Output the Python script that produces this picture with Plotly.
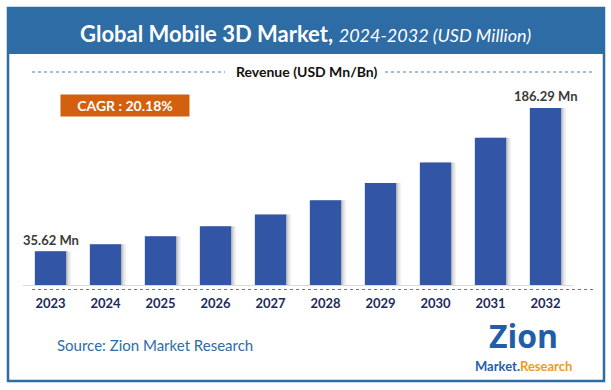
import plotly.graph_objects as go

years = ["2023", "2024", "2025", "2026", "2027", "2028", "2029", "2030", "2031", "2032"]
revenue = [35.62, 42.8, 51.4, 61.8, 74.3, 89.3, 107.3, 129.0, 155.0, 186.29]
first_label = "35.62 Mn"
last_label = "186.29 Mn"
cagr_text = "CAGR : 20.18%"

W, H = 611, 390
L, R, T, B = 23, 38, 95, 105
PW, PH = W - L - R, H - T - B

def px(x):
    return (x - L) / PW

def py(y):
    return (H - B - y) / PH

BLUE = "#2E6CA6"
BAR = "#3256A5"
FONT = "Lato, Open Sans, sans-serif"

fig = go.Figure()
# soft shadow on the right side of each bar
for off, alpha in [(0.03, 0.10), (0.06, 0.08), (0.09, 0.05)]:
    fig.add_trace(go.Bar(x=years, y=revenue, marker=dict(color="rgba(0,0,0,%s)" % alpha, line_width=0),
                         width=0.57, offset=-0.285 + off, hoverinfo="skip", showlegend=False))
fig.add_trace(go.Bar(x=years, y=revenue, marker=dict(color=BAR, line_width=0),
                     width=0.57, offset=-0.285, showlegend=False))

shapes = []
shapes.append(dict(type="rect", xref="paper", yref="paper", x0=px(8), x1=px(604), y0=py(8), y1=py(54),
                   fillcolor=BLUE, line_width=0, layer="below"))
shapes.append(dict(type="rect", xref="paper", yref="paper", x0=px(8), x1=px(604), y0=py(8), y1=py(381),
                   line=dict(color=BLUE, width=2.5), fillcolor="rgba(0,0,0,0)"))
for x0, x1 in [(32, 225), (385, 593)]:
    shapes.append(dict(type="line", xref="paper", yref="paper", x0=px(x0), x1=px(x1), y0=py(72), y1=py(72),
                       line=dict(color="#4A7CC7", width=1, dash="3px,3px")))
shapes.append(dict(type="line", xref="paper", yref="paper", x0=px(32), x1=px(593), y0=py(289.5), y1=py(289.5),
                   line=dict(color="#4A7CC7", width=1, dash="3px,3px")))

ann = []
ann.append(dict(xref="paper", yref="paper", x=px(305), y=py(33), xanchor="center", yanchor="middle",
                showarrow=False,
                text="<b>Global Mobile 3D Market,</b> <i><span style='font-size:18px'>2024-2032 (USD Million)</span></i>",
                font=dict(family=FONT, size=22, color="white")))
ann.append(dict(xref="paper", yref="paper", x=px(306), y=py(71), xanchor="center", yanchor="middle",
                showarrow=False, text="<b>Revenue (USD Mn/Bn)</b>",
                font=dict(family=FONT, size=14, color="#111111")))
ann.append(dict(xref="paper", yref="paper", x=px(125), y=py(105.5), xanchor="center", yanchor="middle",
                showarrow=False, text="<b>" + cagr_text + "</b>", bgcolor="#D2600F",
                width=128, height=21, borderpad=0,
                font=dict(family=FONT, size=14, color="white")))
ann.append(dict(x=0, y=revenue[0], yshift=11, xshift=0, showarrow=False, text="<b>" + first_label + "</b>",
                xanchor="center", yanchor="middle",
                font=dict(family=FONT, size=13, color="#3A3A3A")))
ann.append(dict(x=len(years) - 1, y=revenue[-1], yshift=12, showarrow=False, text="<b>" + last_label + "</b>",
                xanchor="center", yanchor="middle",
                font=dict(family=FONT, size=13, color="#3A3A3A")))
ann.append(dict(xref="paper", yref="paper", x=px(55), y=py(345), xanchor="left", yanchor="middle",
                showarrow=False, text="Source: Zion Market Research",
                font=dict(family=FONT, size=15, color="#2E6CA6")))
# logo approximation
ann.append(dict(xref="paper", yref="paper", x=px(523), y=py(335), xanchor="center", yanchor="middle",
                showarrow=False, text="<b>Zion</b>",
                font=dict(family="Open Sans, sans-serif", size=32, color="#1F5FA8")))
ann.append(dict(xref="paper", yref="paper", x=px(523), y=py(366), xanchor="center", yanchor="middle",
                showarrow=False,
                text="<b><span style='color:#1F5FA8'>Market.</span><span style='color:#F29A1E'>Research</span></b>",
                font=dict(family=FONT, size=13)))

fig.update_layout(
    width=W, height=H, margin=dict(l=L, r=R, t=T, b=B),
    paper_bgcolor="white", plot_bgcolor="white",
    barmode="overlay", bargap=0.43,
    shapes=shapes, annotations=ann,
    xaxis=dict(type="category", range=[-0.5, 9.5], showline=True, linecolor="#D9D9D9", linewidth=1,
               showgrid=False, ticks="", ticklabelstandoff=6,
               tickfont=dict(family=FONT, size=13, color="#1F2A5C", weight="bold")),
    yaxis=dict(range=[0, 200], visible=False, showgrid=False),
    font=dict(family=FONT),
)

fig.write_html("out.html", config={"displayModeBar": False},
               post_script="document.body.style.margin='0px';document.body.style.padding='0px';")
